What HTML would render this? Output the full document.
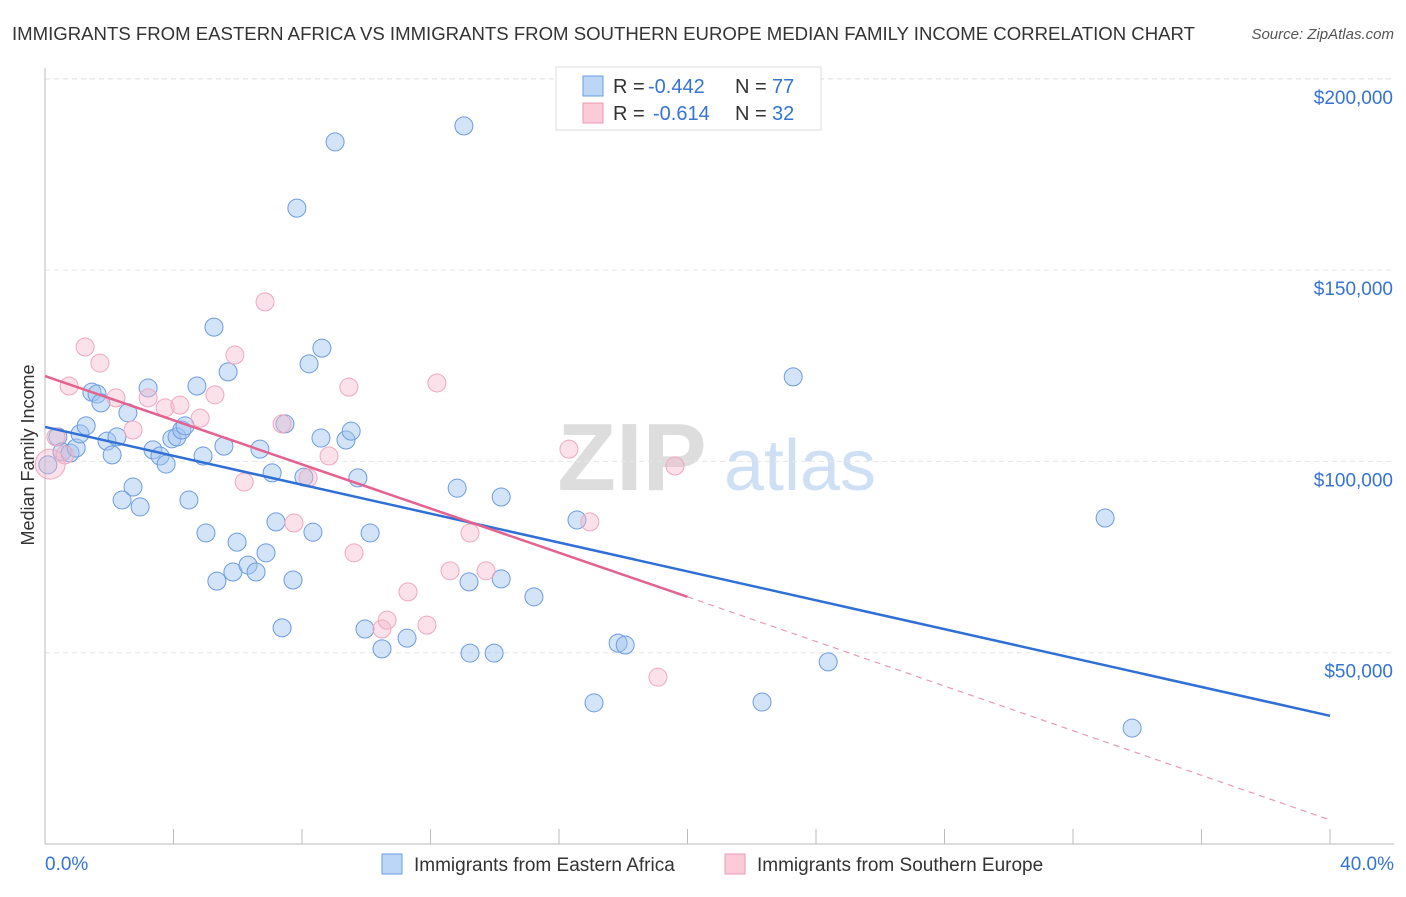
<!DOCTYPE html>
<html><head><meta charset="utf-8"><style>
body{margin:0;background:#fff;font-family:"Liberation Sans",sans-serif}
svg text{font-family:"Liberation Sans",sans-serif}
</style></head><body>
<svg id="chart" width="1406" height="892" viewBox="0 0 1406 892" xmlns="http://www.w3.org/2000/svg">
<text x="12" y="40" font-size="18" fill="#333" textLength="1183" lengthAdjust="spacingAndGlyphs">IMMIGRANTS FROM EASTERN AFRICA VS IMMIGRANTS FROM SOUTHERN EUROPE MEDIAN FAMILY INCOME CORRELATION CHART</text>
<text x="1394" y="39" font-size="15" fill="#555" text-anchor="end" font-style="italic">Source: ZipAtlas.com</text>
<g>
<text x="632" y="490" font-size="96" fill="#ddd" text-anchor="middle" font-family="Liberation Serif" font-weight="bold">ZIP</text>
<text x="800" y="490" font-size="72" fill="#cfe0f4" text-anchor="middle">atlas</text>
</g>
<g id="grid"></g>
<g id="axes"></g>
<g id="marks"></g>
<text transform="translate(34,455) rotate(-90)" font-size="18" fill="#333" text-anchor="middle">Median Family Income</text>
<g>
<rect x="556" y="67" width="265" height="63" fill="#fff" stroke="#ddd"/>
<rect x="583" y="76" width="20" height="20" fill="#bcd6f7" stroke="#6b9ee0"/>
<rect x="583" y="103" width="20" height="20" fill="#fbcbd9" stroke="#ec9ab5"/>
<text x="613" y="93" font-size="20" fill="#333">R =</text>
<text x="648" y="93" font-size="20" fill="#3573d4">-0.442</text>
<text x="735" y="93" font-size="20" fill="#333">N =</text>
<text x="772" y="93" font-size="20" fill="#3573d4">77</text>
<text x="613" y="120" font-size="20" fill="#333">R =</text>
<text x="653" y="120" font-size="20" fill="#3573d4">-0.614</text>
<text x="735" y="120" font-size="20" fill="#333">N =</text>
<text x="772" y="120" font-size="20" fill="#3573d4">32</text>
</g>
<g>
<rect x="382" y="854" width="20" height="20" fill="#bcd6f7" stroke="#6b9ee0"/>
<text x="414" y="871" font-size="19" fill="#333">Immigrants from Eastern Africa</text>
<rect x="725" y="854" width="20" height="20" fill="#fbcbd9" stroke="#ec9ab5"/>
<text x="757" y="871" font-size="19" fill="#333">Immigrants from Southern Europe</text>
</g>
</svg>
<script>
const yTicks=[50000,100000,150000,200000];
const yTickLabels=["$50,000","$100,000","$150,000","$200,000"];
const xTicks=[0,4,8,12,16,20,24,28,32,36,40];
const xEndLabels=["0.0%","40.0%"];
const blueX=[0.40,0.53,0.78,0.97,1.09,1.28,1.46,1.62,1.74,1.93,2.09,2.24,2.58,2.74,2.40,2.96,3.21,3.36,3.58,3.77,3.95,4.11,4.26,4.36,4.48,4.73,4.92,5.01,5.26,5.35,5.57,5.70,5.85,5.98,6.32,6.57,6.69,6.88,7.07,7.19,7.38,7.47,7.72,7.84,8.06,8.22,8.34,8.59,8.62,9.03,9.37,9.53,9.74,9.96,10.12,10.49,11.27,12.83,13.04,13.20,13.23,13.98,14.20,14.20,15.22,16.56,17.84,18.06,17.09,22.32,23.29,24.38,33.00,33.84,0.09];
const blueY=[106.4,102.5,102.2,103.5,107.2,109.3,118.1,117.6,115.3,105.3,101.7,106.4,112.7,93.3,89.9,88.1,119.2,103.0,101.4,99.3,105.9,106.4,108.2,109.3,89.9,119.7,101.4,81.3,135.1,68.7,104.0,123.4,71.1,78.9,72.9,71.1,103.2,76.1,97.0,84.2,56.5,109.8,69.0,166.2,95.9,125.5,81.5,106.1,129.6,183.5,105.6,107.9,95.7,56.2,81.3,51.0,53.8,93.0,187.7,68.5,49.9,49.9,90.7,69.3,64.6,84.7,52.5,52.0,36.9,37.1,122.1,47.6,85.2,30.3,99.1];
const pinkX=[0.16,0.34,0.62,0.75,1.25,1.71,2.21,2.74,3.21,3.74,4.20,4.83,5.29,5.91,6.20,6.85,7.38,7.75,8.19,8.84,9.46,9.62,10.49,10.65,11.30,11.89,12.20,12.61,13.23,13.73,16.31,16.96,19.08,19.61];
const pinkY=[99.3,106.4,101.7,119.7,129.9,125.7,116.6,108.2,116.6,114.0,114.7,111.3,117.4,127.8,94.6,141.7,109.8,83.9,95.7,101.4,119.4,76.1,56.2,58.5,65.9,57.2,120.5,71.4,81.3,71.4,103.2,84.2,43.6,98.8];
const blueTrend=[0,109.0,40,33.5];
const pinkTrend=[0,122.3,20,64.6,40,6.3];
const NS="http://www.w3.org/2000/svg";
const X=v=>45+v/40*1285;
const Y=k=>844-k*1000/50000*191.3;
function mk(t,a,p){const e=document.createElementNS(NS,t);for(const k in a)e.setAttribute(k,a[k]);p.appendChild(e);return e;}
const grid=document.getElementById('grid'),axes=document.getElementById('axes'),marks=document.getElementById('marks');
yTicks.forEach((t,i)=>{
 const l=mk('line',{x1:45,x2:1394,y1:Y(t/1000),y2:Y(t/1000),stroke:'#e6e6e6','stroke-dasharray':'5,4'},grid);
 
 
 const tx=mk('text',{x:1393,y:Y(t/1000)+25,'font-size':19,fill:'#3573d4','text-anchor':'end'},axes);
 tx.textContent=yTickLabels[i];
 
 
});
const tg=mk('line',{x1:45,x2:1394,y1:79,y2:79,stroke:'#e6e6e6','stroke-dasharray':'5,4'},grid);


const ya=mk('line',{x1:45,x2:45,y1:68,y2:844,stroke:'#bbb'},axes);


const xa=mk('line',{x1:45,x2:1394,y1:844,y2:844,stroke:'#bbb'},axes);


xTicks.forEach(t=>{
 const l=mk('line',{x1:X(t),x2:X(t),y1:829,y2:844,stroke:'#bbb'},axes);
 
 
});
[[0,'start',45],[40,'end',1394]].forEach((d,i)=>{
 const tx=mk('text',{x:d[2],y:870,'font-size':19,fill:'#3573d4','text-anchor':d[1]},axes);
 tx.textContent=xEndLabels[i];
 
 
});
function pts(xs,ys,fill,stroke,name){
 xs.forEach((x,i)=>{
  const r=(i===0&&name==='pink-point')?15:9;
  const c=mk('circle',{cx:X(x),cy:Y(ys[i]),r:r,fill:fill,stroke:stroke,'stroke-width':1},marks);
  
  
 });
}
pts(blueX,blueY,'rgba(160,196,240,0.45)','#6d9be0','blue-point');
pts(pinkX,pinkY,'rgba(245,180,200,0.4)','#efa8c0','pink-point');
const bl=mk('line',{x1:X(blueTrend[0]),y1:Y(blueTrend[1]),x2:X(blueTrend[2]),y2:Y(blueTrend[3]),stroke:'#2f6fd6','stroke-width':2.5},marks);


const pl=mk('line',{x1:X(pinkTrend[0]),y1:Y(pinkTrend[1]),x2:X(pinkTrend[2]),y2:Y(pinkTrend[3]),stroke:'#e4628f','stroke-width':2.5},marks);


const pd=mk('line',{x1:X(pinkTrend[2]),y1:Y(pinkTrend[3]),x2:X(pinkTrend[4]),y2:Y(pinkTrend[5]),stroke:'#e79ab5','stroke-width':1.2,'stroke-dasharray':'6,5'},marks);


</script>
</body></html>
